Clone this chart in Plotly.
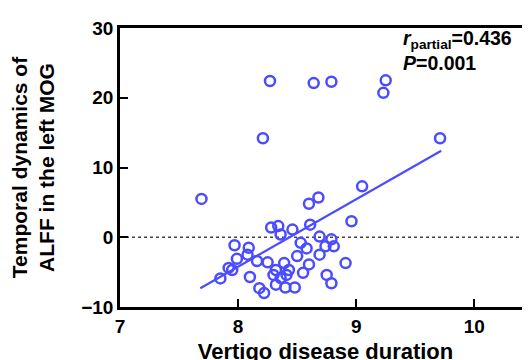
import plotly.graph_objects as go

# Data
duration = [8.27, 8.64, 8.79, 9.25, 9.23, 8.21, 9.71, 7.69, 9.05, 8.68, 8.60, 8.96,
            8.28, 8.34, 8.36, 8.46, 8.61, 8.69, 8.79, 8.81, 8.74, 8.53, 8.58, 7.97,
            8.09, 7.99, 7.92, 7.95, 7.85, 8.10, 8.16, 8.25, 8.18, 8.22, 8.30, 8.69,
            8.50, 8.60, 8.91, 8.39, 8.43, 8.55, 8.75, 8.79, 8.32, 8.40, 8.48, 8.08,
            8.32, 8.36, 8.41]
alff = [22.4, 22.1, 22.3, 22.5, 20.7, 14.2, 14.2, 5.5, 7.3, 5.7, 4.8, 2.3,
        1.4, 1.6, 0.4, 1.1, 1.8, 0.1, -0.3, -1.3, -1.3, -0.8, -1.6, -1.15,
        -1.5, -3.1, -4.4, -4.7, -5.9, -5.7, -3.4, -3.6, -7.3, -8.0, -5.4, -2.5,
        -2.7, -3.9, -3.7, -3.7, -4.7, -5.1, -5.4, -6.6, -6.8, -7.2, -7.2, -2.5,
        -4.7, -5.85, -5.4]
fit_x = [7.68, 9.72]
fit_y = [-7.3, 12.4]
x_ticks = [7, 8, 9, 10]
y_ticks = [-10, 0, 10, 20, 30]

BLUE = "#4B4BFF"
FONT = "Liberation Sans"

fig = go.Figure()
fig.add_trace(go.Scatter(x=fit_x, y=fit_y, mode="lines",
                         line=dict(color=BLUE, width=2.2), showlegend=False))
fig.add_trace(go.Scatter(x=duration, y=alff, mode="markers",
                         marker=dict(symbol="circle-open", size=10, color=BLUE,
                                     line=dict(width=2.5, color=BLUE)),
                         showlegend=False))

fig.add_shape(type="line", xref="paper", yref="y", x0=0, x1=1, y0=0, y1=0,
              line=dict(color="#444444", width=1.3, dash="dot"), layer="below")

axis_common = dict(showline=True, linecolor="black", linewidth=2.5, mirror=True,
                   ticks="inside", ticklen=8, tickwidth=2, tickcolor="black",
                   showgrid=False, zeroline=False,
                   tickfont=dict(family=FONT, size=19, color="black", weight="bold"))

fig.update_xaxes(range=[7, 10.48], tickvals=x_ticks, **axis_common,
                 title=dict(text="Vertigo disease duration", standoff=9,
                            font=dict(family=FONT, size=22, color="black", weight="bold")))
fig.update_yaxes(range=[-10, 30], tickvals=y_ticks, **axis_common,
                 title=dict(text="Temporal dynamics of<br>ALFF in the left MOG", standoff=22,
                            font=dict(family=FONT, size=21, color="black", weight="bold")))

fig.add_annotation(xref="paper", yref="paper", x=0.684, y=0.957, xanchor="left", yanchor="middle",
                   text="<i>r</i><sub>partial</sub>=0.436", showarrow=False,
                   font=dict(family=FONT, size=19.5, color="black", weight="bold"))
fig.add_annotation(xref="paper", yref="paper", x=0.684, y=0.874, xanchor="left", yanchor="middle",
                   text="<i>P</i>=0.001", showarrow=False,
                   font=dict(family=FONT, size=19.5, color="black", weight="bold"))

fig.update_layout(width=530, height=360, margin=dict(l=112, r=4, t=20, b=61),
                  plot_bgcolor="white", paper_bgcolor="white")

fig.write_html("out.html")
